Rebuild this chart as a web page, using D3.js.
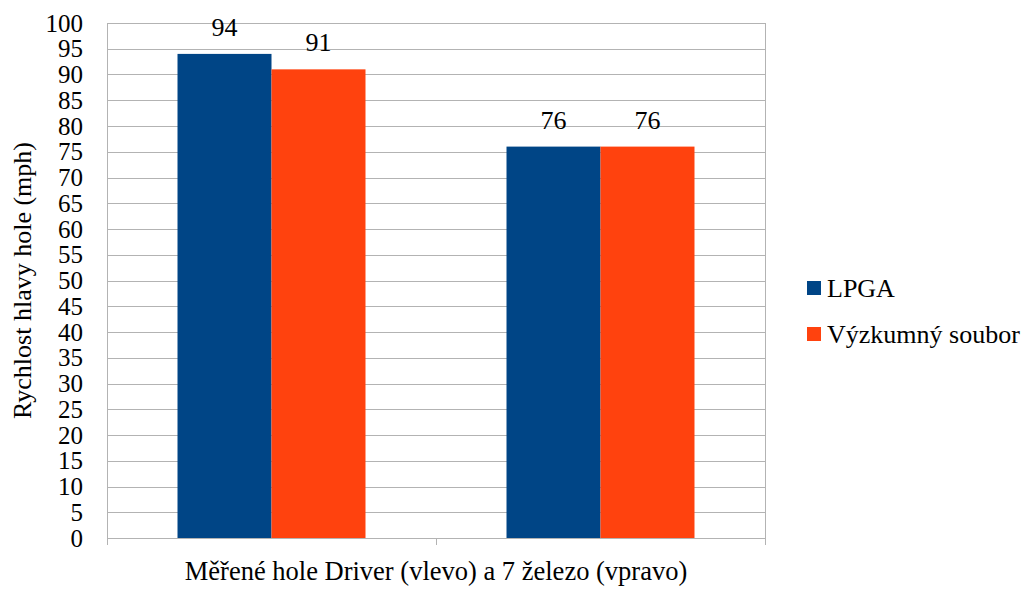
<!DOCTYPE html>
<html>
<head>
<meta charset="utf-8">
<script src="https://cdn.jsdelivr.net/npm/d3@7"></script>
<style>
  html, body { margin: 0; padding: 0; background: #fff; }
  svg { display: block; }
</style>
</head>
<body>
<svg id="chart" width="1031" height="592"></svg>
<script>
// Club types measured (not labelled on the axis)
const categories = ["Driver", "7 železo"];
const seriesNames = ["LPGA", "Výzkumný soubor"];
const lpgaValues = [94, 76];
const vyzkumnyValues = [91, 76];
const seriesColors = ["#004586", "#ff420e"];
const yTicks = d3.range(0, 101, 5);

const FONT = "Liberation Serif";
const FS = 26;
const TICK_FS = 25;
const svg = d3.select("#chart");
const margin = { left: 107, right: 266, top: 23, bottom: 54 };
const W = 1031, H = 592;
const plotW = W - margin.left - margin.right;
const plotH = H - margin.top - margin.bottom;

const x0 = d3.scaleBand().domain(categories).range([0, plotW]).paddingInner(0).paddingOuter(0);
const x1 = d3.scaleBand().domain(seriesNames).range([x0.bandwidth() * 0.2143, x0.bandwidth() * (1 - 0.2143)]);
const y = d3.scaleLinear().domain([0, 100]).range([plotH, 0]);

const g = svg.append("g").attr("transform", `translate(${margin.left},${margin.top})`);

// horizontal gridlines
g.append("g").selectAll("line").data(yTicks).join("line")
  .attr("x1", 0).attr("x2", plotW)
  .attr("y1", d => Math.round(y(d)) + 0.5).attr("y2", d => Math.round(y(d)) + 0.5)
  .attr("stroke", "#b3b3b3").attr("stroke-width", 1);

// right border
g.append("line").attr("x1", plotW + 0.5).attr("x2", plotW + 0.5)
  .attr("y1", 0).attr("y2", plotH).attr("stroke", "#b3b3b3");

// bars
const rows = categories.map((c, i) => ({ cat: c, vals: [lpgaValues[i], vyzkumnyValues[i]] }));
const grp = g.selectAll("g.cat").data(rows).join("g").attr("class", "cat")
  .attr("transform", d => `translate(${x0(d.cat)},0)`);

grp.selectAll("rect").data(d => d.vals.map((v, j) => ({ name: seriesNames[j], v, j })))
  .join("rect")
  .attr("x", d => x1(d.name)).attr("width", x1.bandwidth())
  .attr("y", d => y(d.v)).attr("height", d => plotH - y(d.v))
  .attr("fill", d => seriesColors[d.j]);

// value labels
grp.selectAll("text").data(d => d.vals.map((v, j) => ({ name: seriesNames[j], v, j })))
  .join("text")
  .attr("x", d => x1(d.name) + x1.bandwidth() / 2)
  .attr("y", d => y(d.v) - 18)
  .attr("text-anchor", "middle")
  .attr("font-family", FONT).attr("font-size", FS).attr("fill", "#000")
  .text(d => d.v);

// y axis
const yAxis = g.append("g").call(d3.axisLeft(y).tickValues(yTicks).tickSize(0).tickPadding(24));
yAxis.attr("font-family", FONT).attr("font-size", TICK_FS);
yAxis.select(".domain").attr("stroke", "#b3b3b3");
yAxis.selectAll("text").attr("font-family", FONT).attr("font-size", TICK_FS).attr("fill", "#000");

// x axis (categories unlabelled, ticks at band edges)
const xAxis = g.append("g").attr("transform", `translate(0,${plotH})`);
xAxis.append("line").attr("x1", 0).attr("x2", plotW).attr("y1", 0.5).attr("y2", 0.5).attr("stroke", "#b3b3b3");
const edges = [0, ...categories.map(c => x0(c) + x0.bandwidth())];
xAxis.selectAll("line.tk").data(edges).join("line").attr("class", "tk")
  .attr("x1", d => Math.round(d) + 0.5).attr("x2", d => Math.round(d) + 0.5)
  .attr("y1", 0).attr("y2", 7).attr("stroke", "#b3b3b3");

// axis titles
svg.append("text")
  .attr("transform", `translate(31,${margin.top + plotH / 2}) rotate(-90)`)
  .attr("text-anchor", "middle").attr("font-family", FONT).attr("font-size", FS).attr("fill", "#000")
  .text("Rychlost hlavy hole (mph)");

svg.append("text")
  .attr("x", margin.left + plotW / 2).attr("y", 580)
  .attr("text-anchor", "middle").attr("font-family", FONT).attr("font-size", 26.5).attr("fill", "#000")
  .text("Měřené hole Driver (vlevo) a 7 železo (vpravo)");

// legend
const legend = svg.append("g").attr("transform", "translate(807,281)");
seriesNames.forEach((n, i) => {
  const row = legend.append("g").attr("transform", `translate(0,${i * 46})`);
  row.append("rect").attr("width", 14).attr("height", 14).attr("fill", seriesColors[i]);
  row.append("text").attr("x", 20).attr("y", 16)
    .attr("font-family", FONT).attr("font-size", FS).attr("fill", "#000").text(n);
});
</script>
</body>
</html>
